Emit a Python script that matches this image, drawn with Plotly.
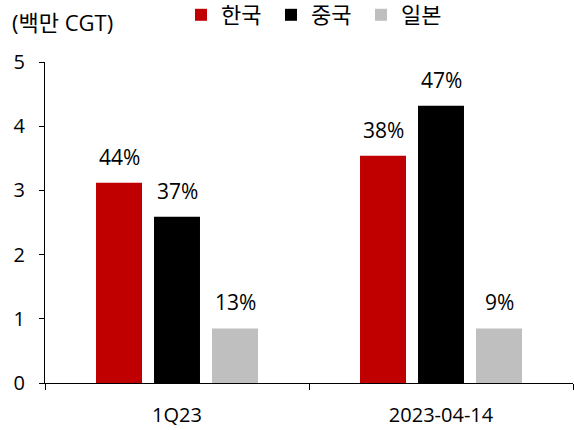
import plotly.graph_objects as go

categories = ["1Q23", "2023-04-14"]
series_names = ["한국", "중국", "일본"]
korea = [3.12, 3.54]
china = [2.59, 4.32]
japan = [0.85, 0.85]
korea_share = ["44%", "38%"]
china_share = ["37%", "47%"]
japan_share = ["13%", "9%"]
y_ticks = [0, 1, 2, 3, 4, 5]

colors = ["#C00000", "#000000", "#BFBFBF"]
values = [korea, china, japan]
shares = [korea_share, china_share, japan_share]

FONT = "Open Sans, Noto Sans CJK KR, sans-serif"
FS = 20

W, H = 574, 430
L, T = 45, 62
R = 1
B = H - 383
PW = W - L - R
PH = H - T - B

fig = go.Figure()
for name, vals, col in zip(series_names, values, colors):
    fig.add_trace(go.Bar(x=categories, y=vals, name=name, marker_color=col,
                         marker_line_width=0))

offsets = [-58, 0, 58]
for vals, labs, off in zip(values, shares, offsets):
    for c, v, t in zip(categories, vals, labs):
        fig.add_annotation(x=c, y=v, text=t, showarrow=False, xshift=off,
                           yanchor="middle", yshift=26,
                           font=dict(size=21, color="#000", family=FONT))

fig.add_annotation(xref="paper", yref="paper", x=-35/PW, y=1.0, yshift=40,
                   text="(백만 CGT)", showarrow=False, xanchor="left", yanchor="middle",
                   font=dict(size=22, color="#000", family=FONT))

fig.update_layout(
    width=W, height=H,
    margin=dict(l=L, r=R, t=T, b=B, autoexpand=False),
    plot_bgcolor="white", paper_bgcolor="white",
    barmode="group", bargap=0.341, bargroupgap=0.207,
    font=dict(family=FONT, size=FS, color="#000"),
    legend=dict(orientation="h", x=(181-45)/PW, y=1 + (62-15)/PH,
                xanchor="left", yanchor="middle",
                font=dict(size=22, family=FONT),
                entrywidth=45, entrywidthmode="pixels", traceorder="normal"),
    showlegend=True,
)
fig.update_xaxes(type="category", showline=True, linecolor="#000", linewidth=1,
                 ticks="outside", tickson="boundaries", ticklen=6, tickcolor="#000",
                 tickfont=dict(size=FS, family=FONT), showgrid=False,
                 ticklabelstandoff=14, automargin=False)
fig.update_yaxes(range=[0, 5], tickvals=y_ticks, showline=True, linecolor="#000",
                 linewidth=1, ticks="outside", ticklen=5, tickcolor="#000",
                 tickfont=dict(size=FS, family=FONT), showgrid=False, zeroline=False,
                 ticklabelstandoff=10, automargin=False)

fig.write_html("out.html", config={"displayModeBar": False},
               post_script="document.body.style.margin='0';document.body.style.overflow='hidden';")
